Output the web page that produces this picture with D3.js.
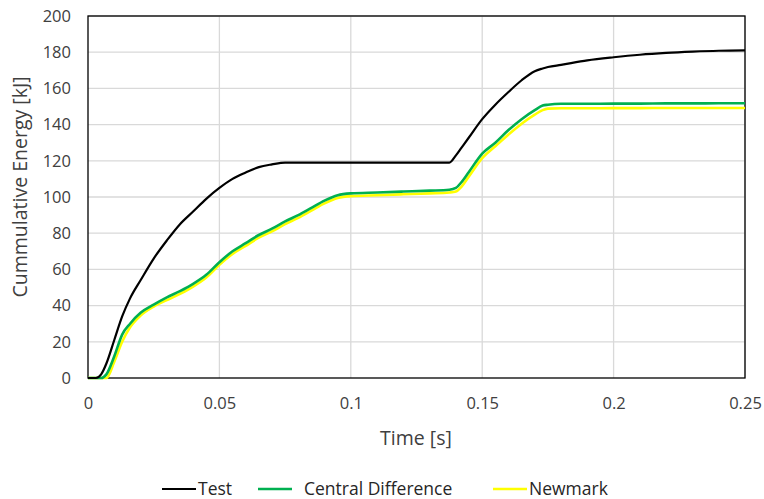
<!DOCTYPE html>
<html><head><meta charset="utf-8">
<script src="https://cdn.jsdelivr.net/npm/d3@7"></script>
<style>body{margin:0;background:#fff}svg{display:block;font-family:"Open Sans",Lato,sans-serif}</style>
</head><body><svg id="c" width="764" height="499"></svg>
<script>
const time = [0,0.003,0.005,0.007,0.01,0.013,0.016,0.02,0.025,0.03,0.035,0.04,0.045,0.05,0.055,0.06,0.065,0.07,0.075,0.08,0.085,0.09,0.095,0.1,0.11,0.12,0.13,0.1375,0.14,0.142,0.145,0.15,0.155,0.16,0.165,0.17,0.173,0.175,0.18,0.19,0.2,0.21,0.22,0.23,0.24,0.25];
const test = [0,0,2,8,21,34,44,54,66,76,85,92,99,105,110,113.5,116.5,118,119,119,119,119,119,119,119,119,119,119,123,127,133,143,151,158,164.5,169.5,171,171.8,173,175.5,177.2,178.6,179.6,180.3,180.8,181];
const central = [0,0,0,2,12,24,30,36,40.5,44.5,48,52,57,64,70,74.5,79,82.5,86.5,90,94,98,101,102,102.5,103,103.5,104,105,108,114,124,130,137,143,148,150.5,151,151.5,151.5,151.6,151.6,151.7,151.7,151.8,151.8];
const newmark = [0,0,0,0,9,20,28,34.5,39.5,43,46.5,50.5,55.5,62.5,68.5,73,77.5,81,85,88.5,92.5,96.5,99.5,100.5,101,101.5,102,102.5,103,105.5,111.5,121.5,128,134.5,140.5,145.5,148,148.8,149,149,149.1,149.1,149.2,149.2,149.2,149.2];
const seriesNames = ["Test","Central Difference","Newmark"];
const xTicks = [0,0.05,0.1,0.15,0.2,0.25];
const xTickLabels = ["0","0.05","0.1","0.15","0.2","0.25"];
const yTicks = [0,20,40,60,80,100,120,140,160,180,200];

const svg = d3.select("#c");
const L=88,R=745,T=16,B=378;
const x = d3.scaleLinear().domain([0,0.25]).range([L,R]);
const y = d3.scaleLinear().domain([0,200]).range([B,T]);
const txt = "#404040";
const ff = "'Open Sans',Lato,sans-serif";

svg.append("g").selectAll("line").data(yTicks.slice(1)).join("line")
  .attr("x1",L).attr("x2",R).attr("y1",d=>y(d)).attr("y2",d=>y(d))
  .attr("stroke","#d9d9d9").attr("stroke-width",1.3);
svg.append("g").selectAll("line").data(xTicks.slice(1)).join("line")
  .attr("y1",T).attr("y2",B).attr("x1",d=>x(d)).attr("x2",d=>x(d))
  .attr("stroke","#d9d9d9").attr("stroke-width",1.3);

const yAxis = svg.append("g").attr("transform",`translate(${L},0)`)
  .call(d3.axisLeft(y).tickValues(yTicks).tickSize(0).tickPadding(17));
const xAxis = svg.append("g").attr("transform",`translate(0,${B})`)
  .call(d3.axisBottom(x).tickValues(xTicks).tickFormat((d,i)=>xTickLabels[i]).tickSize(0).tickPadding(19));
[yAxis,xAxis].forEach(a=>{a.select(".domain").remove();a.selectAll("text").attr("font-size",16.5).attr("fill",txt).attr("font-family",ff);});

svg.append("rect").attr("x",L).attr("y",T).attr("width",R-L).attr("height",B-T)
  .attr("fill","none").attr("stroke","#000").attr("stroke-width",1.3);

const line = d3.line().x((d,i)=>x(time[i])).y(d=>y(d)).curve(d3.curveMonotoneX);
const series = [
  {name:seriesNames[0],vals:test,color:"#000000",w:2.2},
  {name:seriesNames[1],vals:central,color:"#00b050",w:2.6},
  {name:seriesNames[2],vals:newmark,color:"#ffff00",w:2.6}
];
[series[2],series[1],series[0]].forEach(s=>{
  svg.append("path").datum(s.vals).attr("d",line).attr("fill","none")
    .attr("stroke",s.color).attr("stroke-width",s.w).attr("stroke-linejoin","round");
});

svg.append("text").attr("x",416).attr("y",445).attr("text-anchor","middle")
  .attr("font-size",19.5).attr("fill",txt).text("Time [s]");
svg.append("text").attr("transform",`translate(27,${(T+B)/2-10}) rotate(-90)`).attr("text-anchor","middle")
  .attr("font-size",19.5).attr("fill",txt).text("Cummulative Energy [kJ]");

const leg = [{x1:162,x2:196,tx:198},{x1:258,x2:292,tx:304},{x1:493,x2:527,tx:529}];
series.forEach((s,i)=>{
  svg.append("line").attr("x1",leg[i].x1).attr("x2",leg[i].x2).attr("y1",489).attr("y2",489)
    .attr("stroke",s.color).attr("stroke-width",s.w);
  svg.append("text").attr("x",leg[i].tx).attr("y",495).attr("font-size",17.5).attr("fill","#262626").text(s.name);
});
</script></body></html>
